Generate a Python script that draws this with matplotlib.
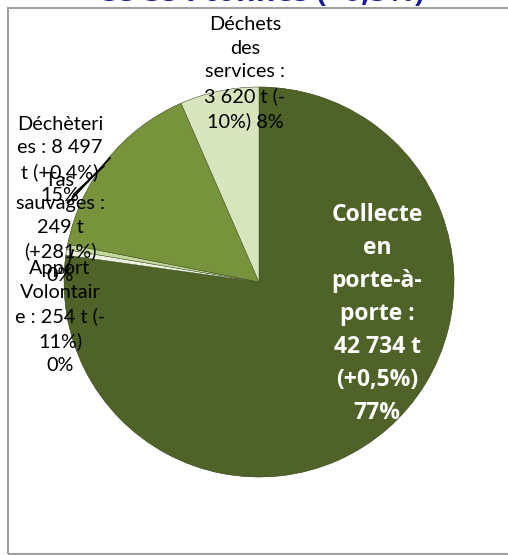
import matplotlib
matplotlib.use("Agg")
import matplotlib.pyplot as plt
from matplotlib.patches import Rectangle

plt.rcParams['font.family'] = ['Lato', 'DejaVu Sans']

# data: tonnages 2010, clockwise from 12 o'clock
categories = ['Collecte en porte-à-porte', 'Apport Volontaire', 'Tas sauvages',
              'Déchèteries', 'Déchets des services']
tonnes = [42734, 254, 249, 8497, 3620]
labels = ['Collecte\nen\nporte-à-\nporte :\n42 734 t\n(+0,5%)\n77%',
          'Apport\nVolontair\ne : 254 t (-\n11%)\n0%',
          'Tas\nsauvages :\n249 t\n(+281%)\n0%',
          'Déchèteri\nes : 8 497\nt (+0,4%)\n15%',
          'Déchets\ndes\nservices :\n3 620 t (-\n10%) 8%']
colors = ['#4F6228', '#EBF1DE', '#C3D69B', '#77933C', '#D7E4BD']
title = '55 354 tonnes (+0,3%)'

W, H = 508, 555
fig = plt.figure(figsize=(W / 100, H / 100), dpi=100)
ax = fig.add_axes([0, 0, 1, 1])

# chart frame
ax.add_patch(Rectangle((8, 1), W + 20, H - 9, fill=False, edgecolor='#A0A0A0', lw=1.5))

ax.pie(tonnes, colors=colors, startangle=90, counterclock=False,
       center=(259, H - 282), radius=195, frame=True,
       wedgeprops=dict(edgecolor='#3a4a1c', linewidth=0.3),
       shadow=dict(ox=0.012, oy=-0.012, shade=0.6, alpha=0.5))
ax.set_xlim(0, W)
ax.set_ylim(0, H)
ax.set_aspect('equal')
ax.axis('off')

# label positions (pixel centres from the top)
pos = [(377, 314), (60, 317), (60, 228), (60, 160), (245, 73)]
for i, (lab, (x, y)) in enumerate(zip(labels, pos)):
    if i == 0:
        ax.text(x, H - y, lab, ha='center', va='center', color='white',
                family='Open Sans', fontsize=16.5, fontweight='bold', linespacing=1.5)
    else:
        ax.text(x, H - y, lab, ha='center', va='center', color='black',
                fontsize=14.3, linespacing=1.46)

# leader lines
for (x0, y0), (x1, y1) in [((110, 158), (68, 203)), ((104, 166), (74, 194)),
                           ((73, 250), (66, 273))]:
    ax.plot([x0, x1], [H - y0, H - y1], color='black', lw=1.2, zorder=5)

ax.text(263, H - 1.5, title, ha='center', va='baseline', color='#1A1A9C',
        family='Open Sans', fontsize=21.8, fontweight='bold')

fig.savefig('out.png', dpi=100)
